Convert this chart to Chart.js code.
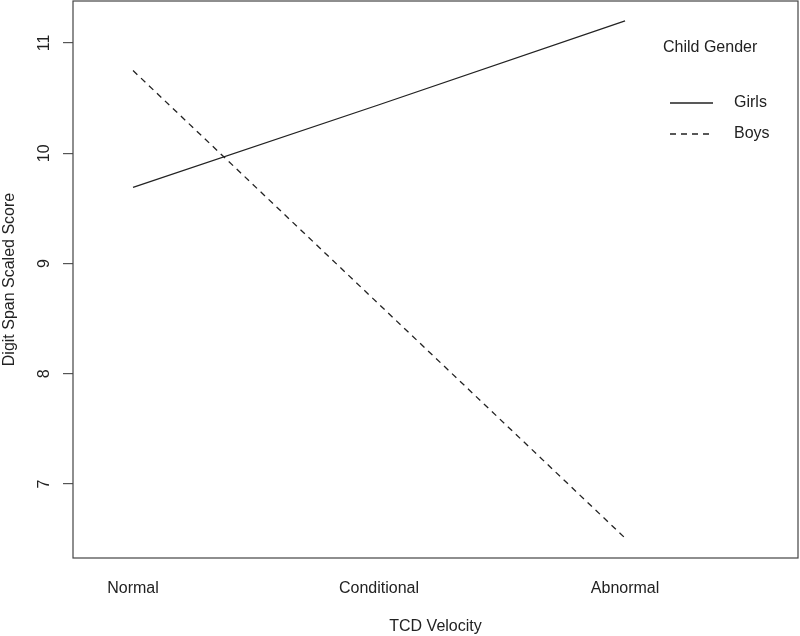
<!DOCTYPE html>
<html lang="en">
<head>
    <meta charset="UTF-8">
    <title>Digit Span by TCD Velocity</title>
    <script src="https://cdn.jsdelivr.net/npm/chart.js"></script>
    <style>
        body { margin: 0; padding: 0; background: #fff; }
        #wrap { width: 800px; height: 636px; }
    </style>
</head>
<body>
    <div id="wrap"><canvas id="chart" width="800" height="636"></canvas></div>
    <script>
        // data
        const categories = ['Normal', 'Conditional', 'Abnormal'];
        const girls = [9.69, 10.44, 11.2];
        const boys = [10.75, 8.63, 6.51];
        const yTicks = [7, 8, 9, 10, 11];
        const seriesNames = ['Girls', 'Boys'];
        const legendTitle = 'Child Gender';

        const FONT = 'Liberation Sans, Arial, Helvetica, sans-serif';
        const INK = '#222';

        // box, rotated y labels and the legend, like R's base graphics
        const rStyle = {
            id: 'rStyle',
            afterDraw(chart) {
                const ctx = chart.ctx;
                const a = chart.chartArea;
                const y = chart.scales.y;
                ctx.save();
                ctx.strokeStyle = '#444';
                ctx.lineWidth = 1.2;
                ctx.strokeRect(a.left, a.top, a.right - a.left, a.bottom - a.top);

                ctx.fillStyle = INK;
                ctx.font = '16px ' + FONT;
                ctx.textAlign = 'center';
                ctx.textBaseline = 'middle';
                yTicks.forEach(v => {
                    ctx.save();
                    ctx.translate(45, y.getPixelForValue(v));
                    ctx.rotate(-Math.PI / 2);
                    ctx.fillText(String(v), 0, 0);
                    ctx.restore();
                });

                // legend
                ctx.textAlign = 'left';
                ctx.fillText(legendTitle, 663, 48);
                const rows = [103, 134];
                chart.data.datasets.forEach((ds, i) => {
                    ctx.beginPath();
                    ctx.lineWidth = 1.3;
                    ctx.strokeStyle = INK;
                    ctx.setLineDash(ds.borderDash || []);
                    ctx.moveTo(670, rows[i]);
                    ctx.lineTo(713, rows[i]);
                    ctx.stroke();
                    ctx.setLineDash([]);
                    ctx.fillText(ds.label, 734, rows[i]);
                });
                ctx.restore();
            }
        };

        const ctx = document.getElementById('chart').getContext('2d');
        new Chart(ctx, {
            type: 'line',
            data: {
                datasets: [
                    {
                        label: seriesNames[0],
                        data: girls.map((v, i) => ({ x: i + 1, y: v })),
                        borderColor: INK,
                        borderWidth: 1.3,
                        pointRadius: 0,
                        fill: false
                    },
                    {
                        label: seriesNames[1],
                        data: boys.map((v, i) => ({ x: i + 1, y: v })),
                        borderColor: INK,
                        borderWidth: 1.3,
                        borderDash: [6, 5],
                        pointRadius: 0,
                        fill: false
                    }
                ]
            },
            options: {
                responsive: false,
                animation: false,
                layout: { padding: { top: 1, right: 2, left: 0, bottom: 0 } },
                plugins: {
                    legend: { display: false },
                    tooltip: { enabled: false }
                },
                scales: {
                    x: {
                        type: 'linear',
                        min: 0.756,
                        max: 3.703,
                        afterBuildTicks: s => { s.ticks = categories.map((c, i) => ({ value: i + 1 })); },
                        afterFit: s => { s.height = 78; },
                        grid: { display: false, drawTicks: false },
                        border: { display: false },
                        ticks: {
                            padding: 21,
                            maxRotation: 0,
                            color: INK,
                            font: { family: FONT, size: 16 },
                            callback: v => categories[v - 1]
                        },
                        title: {
                            display: true,
                            text: 'TCD Velocity',
                            color: INK,
                            padding: 0,
                            font: { family: FONT, size: 16 }
                        }
                    },
                    y: {
                        type: 'linear',
                        min: 6.329,
                        max: 11.381,
                        afterBuildTicks: s => { s.ticks = yTicks.map(v => ({ value: v })); },
                        afterFit: s => { s.width = 73; },
                        grid: {
                            drawOnChartArea: false,
                            drawTicks: true,
                            tickLength: 10,
                            color: '#555',
                            lineWidth: 1.2
                        },
                        border: { display: false },
                        ticks: { display: false },
                        title: {
                            display: true,
                            text: 'Digit Span Scaled Score',
                            color: INK,
                            padding: 0,
                            font: { family: FONT, size: 16 }
                        }
                    }
                }
            },
            plugins: [rStyle]
        });
    </script>
</body>
</html>
